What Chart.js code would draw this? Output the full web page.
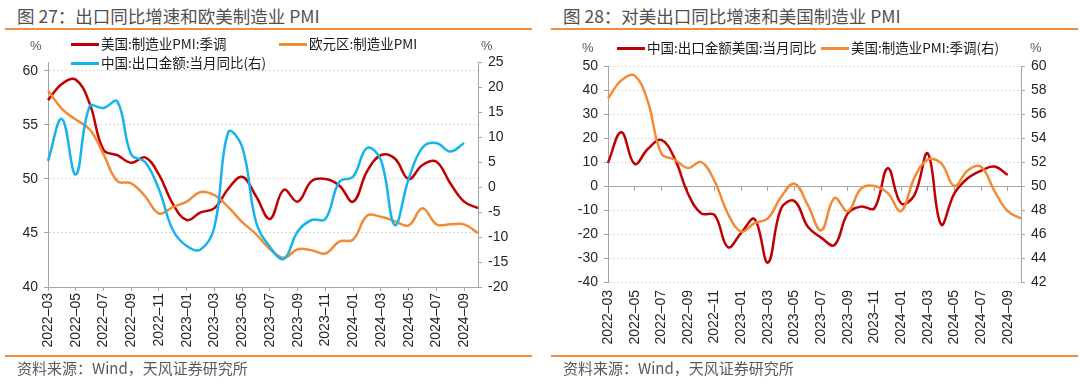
<!DOCTYPE html>
<html lang="zh-CN">
<head>
<meta charset="utf-8">
<script src="https://cdn.jsdelivr.net/npm/chart.js@4.4.1/dist/chart.umd.min.js"></script>
<style>
  body { margin: 0; background: #fff; font-family: "Noto Sans CJK SC", "Noto Sans", sans-serif; }
  #wrap { position: relative; width: 1080px; height: 384px; overflow: hidden; }
  .panel { position: absolute; top: 0; width: 540px; height: 384px; }
  .panel canvas { position: absolute; left: 0; top: 0; }
  .title { position: absolute; top: 5px; font-size: 17.5px; line-height: 22px; color: #505050; white-space: nowrap; }
  .rule { position: absolute; height: 2px; background: #F28C3C; }
  .src { position: absolute; top: 359px; font-size: 15px; line-height: 18px; color: #595959; white-space: nowrap; }
  .lg { position: absolute; font-size: 13.5px; line-height: 16px; color: #1a1a1a; white-space: nowrap; }
  .lg i { display: inline-block; width: 28px; height: 2.5px; vertical-align: middle; margin-right: 2px; position: relative; top: -1px; }
  .unit { position: absolute; font: 13px "Liberation Sans", Arial, sans-serif; color: #595959; line-height: 16px; }
</style>
</head>
<body>
<div id="wrap">
  <div class="panel" style="left:0">
    <div class="title" style="left:17px">图 27：出口同比增速和欧美制造业 PMI</div>
    <div class="rule" style="left:5px; width:527px; top:28px"></div>
    <canvas id="c27" width="540" height="384"></canvas>
    <div class="unit" style="left:30px; top:38px">%</div>
    <div class="unit" style="left:481px; top:38px">%</div>
    <div class="lg" style="left:71px; top:35px"><i style="background:#C00000"></i>美国:制造业PMI:季调</div>
    <div class="lg" style="left:279px; top:35px"><i style="background:#F28A36"></i>欧元区:制造业PMI</div>
    <div class="lg" style="left:71px; top:54px"><i style="background:#16B4EC"></i>中国:出口金额:当月同比(右)</div>
    <div class="rule" style="left:5px; width:527px; top:355px"></div>
    <div class="src" style="left:17px">资料来源：Wind，天风证券研究所</div>
  </div>
  <div class="panel" style="left:540px">
    <div class="title" style="left:23px">图 28：对美出口同比增速和美国制造业 PMI</div>
    <div class="rule" style="left:11px; width:527px; top:28px"></div>
    <canvas id="c28" width="540" height="384"></canvas>
    <div class="unit" style="left:42px; top:40px">%</div>
    <div class="unit" style="left:490px; top:40px">%</div>
    <div class="lg" style="left:77px; top:39px"><i style="background:#C00000"></i>中国:出口金额美国:当月同比</div>
    <div class="lg" style="left:281px; top:39px"><i style="background:#F28A36"></i>美国:制造业PMI:季调(右)</div>
    <div class="rule" style="left:11px; width:527px; top:355px"></div>
    <div class="src" style="left:23px">资料来源：Wind，天风证券研究所</div>
  </div>
</div>
<script>
// x轴月份（每两个月显示一次标签）
const months = [
  '2022–03','2022–04','2022–05','2022–06','2022–07','2022–08','2022–09','2022–10',
  '2022–11','2022–12','2023–01','2023–02','2023–03','2023–04','2023–05','2023–06',
  '2023–07','2023–08','2023–09','2023–10','2023–11','2023–12','2024–01','2024–02',
  '2024–03','2024–04','2024–05','2024–06','2024–07','2024–08','2024–09','2024–10'
];

// 美国:制造业PMI:季调（图27左轴 / 图28右轴）
const usPmi = [57.3, 58.8, 59.2, 57.0, 52.7, 52.2, 51.5, 52.0, 50.4, 47.7, 46.2, 46.9, 47.3, 49.1, 50.2, 48.4,
               46.3, 49.0, 47.9, 49.8, 50.0, 49.4, 47.9, 50.7, 52.2, 51.9, 50.0, 51.3, 51.6, 49.6, 47.9, 47.3];
// 欧元区:制造业PMI
const euroPmi = [58.2, 56.5, 55.5, 54.6, 52.3, 49.8, 49.6, 48.4, 46.8, 47.4, 47.9, 48.8, 48.5, 47.4, 46.0, 44.9,
                 43.5, 42.7, 43.5, 43.4, 43.1, 44.2, 44.4, 46.6, 46.5, 46.1, 45.7, 47.3, 45.8, 45.8, 45.8, 45.0];
// 中国:出口金额:当月同比(右)
const cnExport = [5.2, 13.6, 2.5, 16.1, 15.8, 17.1, 6.5, 5.0, -0.5, -8.6, -11.8, -12.5, -8.0, 11.0, 8.0, -7.0,
                  -12.0, -14.4, -8.9, -6.6, -6.4, 1.0, 2.1, 7.8, 5.4, -7.6, 1.6, 7.9, 8.8, 7.1, 8.8];
// 中国:出口金额美国:当月同比
const cnToUs = [9.7, 22.4, 9.2, 15.5, 19.2, 11.5, -3.1, -11.4, -12.1, -25.5, -19.5, -13.8, -31.9, -9.3, -6.3, -17.0,
                -21.5, -24.6, -11.4, -8.6, -9.3, 7.4, -7.2, -3.8, 13.6, -16.0, -3.1, 3.2, 6.4, 8.1, 4.6];

// 坐标轴刻度
const ticks27L = [40, 45, 50, 55, 60];
const ticks27R = [-20, -15, -10, -5, 0, 5, 10, 15, 20, 25];
const ticks28L = [-40, -30, -20, -10, 0, 10, 20, 30, 40, 50];
const ticks28R = [42, 44, 46, 48, 50, 52, 54, 56, 58, 60];

const RED = '#C00000', ORANGE = '#F28A36', BLUE = '#16B4EC';
const GRID = '#D9D9D9', AXIS = '#A6A6A6', TXT = '#262626';
const tickFont = { family: '"Liberation Sans", Arial, sans-serif', size: 14 };

const fixTicks = arr => s => { s.ticks = arr.map(v => ({ value: v })); };
const evenTicks = s => { s.ticks = s.ticks.filter(t => t.value % 2 === 0); };
const width = w => s => { s.width = w; };
const height = h => s => { s.height = h; };

const base = {
  responsive: false,
  animation: false,
  events: [],
  elements: {
    line: { borderWidth: 2.5, tension: 0.4, fill: false, capBezierPoints: true },
    point: { radius: 0 }
  },
  plugins: { legend: { display: false }, tooltip: { enabled: false } }
};

// 图27
new Chart(document.getElementById('c27'), {
  type: 'line',
  data: {
    labels: months,
    datasets: [
      { label: '美国:制造业PMI:季调', data: usPmi, borderColor: RED, yAxisID: 'y', order: 3 },
      { label: '欧元区:制造业PMI', data: euroPmi, borderColor: ORANGE, yAxisID: 'y', order: 2 },
      { label: '中国:出口金额:当月同比(右)', data: cnExport, borderColor: BLUE, yAxisID: 'y1', order: 1 }
    ]
  },
  options: {
    ...base,
    layout: { padding: { top: 62, left: 0, right: 0, bottom: 0 } },
    scales: {
      x: {
        offset: false,
        afterBuildTicks: evenTicks,
        afterFit: height(97),
        grid: { drawOnChartArea: false, tickLength: 4, tickColor: AXIS },
        border: { color: AXIS },
        ticks: { autoSkip: false, minRotation: 90, maxRotation: 90, padding: 2, font: tickFont, color: TXT }
      },
      y: {
        position: 'left', min: 40, max: 60.83,
        afterBuildTicks: fixTicks(ticks27L),
        afterFit: width(48),
        grid: { color: GRID, tickColor: AXIS, tickLength: 4, tickBorderDash: [] },
        border: { color: AXIS, dash: [2, 2] },
        ticks: { padding: 6, font: tickFont, color: TXT }
      },
      y1: {
        position: 'right', min: -20, max: 25,
        afterBuildTicks: fixTicks(ticks27R),
        afterFit: width(62),
        grid: { drawOnChartArea: false, tickColor: AXIS, tickLength: 4 },
        border: { color: AXIS },
        ticks: { padding: 6, font: tickFont, color: TXT }
      }
    }
  }
});

// 图28
new Chart(document.getElementById('c28'), {
  type: 'line',
  data: {
    labels: months,
    datasets: [
      { label: '中国:出口金额美国:当月同比', data: cnToUs, borderColor: RED, yAxisID: 'y', order: 2 },
      { label: '美国:制造业PMI:季调(右)', data: usPmi, borderColor: ORANGE, yAxisID: 'y1', order: 1 }
    ]
  },
  options: {
    ...base,
    layout: { padding: { top: 66, left: 0, right: 0, bottom: 0 } },
    scales: {
      x: {
        offset: false,
        afterBuildTicks: evenTicks,
        afterFit: height(102),
        grid: { display: false, drawTicks: false, tickLength: 0 },
        border: { display: false },
        ticks: { autoSkip: false, minRotation: 90, maxRotation: 90, padding: 8, font: tickFont, color: TXT }
      },
      // 零轴（带刻度线）
      x2: {
        type: 'category', axis: 'x', position: { y: 0 }, offset: false,
        afterBuildTicks: evenTicks,
        afterFit: height(0),
        grid: { drawOnChartArea: false, tickLength: 4, tickColor: AXIS },
        border: { color: AXIS },
        ticks: { display: false, autoSkip: false }
      },
      y: {
        position: 'left', min: -40, max: 50,
        afterBuildTicks: fixTicks(ticks28L),
        afterFit: width(68),
        grid: { color: c => (c.tick && c.tick.value === 0 ? 'rgba(0,0,0,0)' : GRID), tickColor: AXIS, tickLength: 4, tickBorderDash: [] },
        border: { color: AXIS, dash: [2, 2] },
        ticks: { padding: 6, font: tickFont, color: TXT }
      },
      y1: {
        position: 'right', min: 42, max: 60,
        afterBuildTicks: fixTicks(ticks28R),
        afterFit: width(59),
        grid: { drawOnChartArea: false, tickColor: AXIS, tickLength: 4 },
        border: { color: AXIS },
        ticks: { padding: 6, font: tickFont, color: TXT }
      }
    }
  }
});
</script>
</body>
</html>
